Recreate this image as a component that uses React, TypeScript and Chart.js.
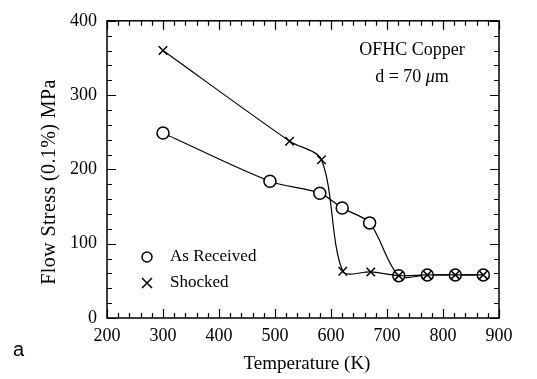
import React, { useEffect, useRef } from "react";
import { Chart, registerables } from "chart.js";

Chart.register(...registerables);

// Data
const asReceivedT = [300, 491, 580, 620, 669, 721, 772, 822, 872];
const asReceivedS = [249, 184, 168, 148, 128, 57, 58, 58, 58];
const shockedT = [300, 526, 583, 621, 671, 721, 772, 822, 872];
const shockedS = [360, 238, 213, 63, 62, 57, 58, 58, 58];

const xMin = 200;
const xMax = 900;
const yMin = 0;
const yMax = 400;
const majorStep = 100;
const minorStep = 20;

const legendLabels = ["As Received", "Shocked"];
const xTitle = "Temperature (K)";
const yTitle = "Flow Stress (0.1%) MPa";
const noteLine1 = "OFHC Copper";
const noteLine2 = ["d = 70 ", "\u03bc", "m"];
const panelLabel = "a";

const SERIF = "'Liberation Serif', 'Times New Roman', serif";

const framePlugin = {
  id: "frameTicks",
  afterDraw(chart: any) {
    const { ctx, chartArea, scales } = chart;
    const { left, right, top, bottom } = chartArea;
    const xs = scales.x;
    const ys = scales.y;
    ctx.save();
    ctx.strokeStyle = "#000";
    ctx.lineWidth = 1.5;
    ctx.strokeRect(left, top, right - left, bottom - top);
    ctx.lineWidth = 1.2;
    ctx.beginPath();
    for (let v = xMin; v <= xMax; v += minorStep) {
      const px = Math.round(xs.getPixelForValue(v)) + 0.5;
      const len = v % majorStep === 0 ? 9 : 5;
      ctx.moveTo(px, bottom);
      ctx.lineTo(px, bottom - len);
      ctx.moveTo(px, top);
      ctx.lineTo(px, top + len);
    }
    for (let v = yMin; v <= yMax; v += minorStep) {
      const py = Math.round(ys.getPixelForValue(v)) + 0.5;
      const len = v % majorStep === 0 ? 9 : 5;
      ctx.moveTo(left, py);
      ctx.lineTo(left + len, py);
      ctx.moveTo(right, py);
      ctx.lineTo(right - len, py);
    }
    ctx.stroke();

    // Axis titles
    ctx.fillStyle = "#000";
    ctx.font = `19px ${SERIF}`;
    ctx.textAlign = "center";
    ctx.textBaseline = "middle";
    ctx.fillText(xTitle, (left + right) / 2 + 4, 364);
    ctx.save();
    ctx.translate(50, 182);
    ctx.rotate(-Math.PI / 2);
    ctx.font = `20px ${SERIF}`;
    (ctx as any).letterSpacing = "0.4px";
    ctx.fillText(yTitle, 0, 0);
    (ctx as any).letterSpacing = "0px";
    ctx.restore();

    // Annotation
    ctx.font = `18px ${SERIF}`;
    ctx.textAlign = "center";
    ctx.fillText(noteLine1, 412, 50);
    const w0 = ctx.measureText(noteLine2[0]).width;
    ctx.font = `italic 18px ${SERIF}`;
    const w1 = ctx.measureText(noteLine2[1]).width;
    ctx.font = `18px ${SERIF}`;
    const w2 = ctx.measureText(noteLine2[2]).width;
    let sx = 412 - (w0 + w1 + w2) / 2;
    ctx.textAlign = "left";
    ctx.fillText(noteLine2[0], sx, 77);
    sx += w0;
    ctx.font = `italic 18px ${SERIF}`;
    ctx.fillText(noteLine2[1], sx, 77);
    sx += w1;
    ctx.font = `18px ${SERIF}`;
    ctx.fillText(noteLine2[2], sx, 77);

    // Legend
    ctx.lineWidth = 1.5;
    ctx.beginPath();
    ctx.arc(147, 257, 5, 0, Math.PI * 2);
    ctx.stroke();
    ctx.beginPath();
    ctx.moveTo(142, 278);
    ctx.lineTo(152, 288);
    ctx.moveTo(152, 278);
    ctx.lineTo(142, 288);
    ctx.stroke();
    ctx.font = `17px ${SERIF}`;
    ctx.textAlign = "left";
    ctx.fillText(legendLabels[0], 170, 257);
    ctx.fillText(legendLabels[1], 170, 283);

    // Panel label
    ctx.font = "20px 'Liberation Sans', Arial, sans-serif";
    ctx.textBaseline = "alphabetic";
    ctx.fillText(panelLabel, 13, 356);
    ctx.restore();
  },
};

export default function App() {
  const ref = useRef<HTMLCanvasElement | null>(null);
  useEffect(() => {
    if (!ref.current) return;
    const chart = new Chart(ref.current, {
      type: "line",
      data: {
        datasets: [
          {
            label: legendLabels[1],
            data: shockedT.map((t, i) => ({ x: t, y: shockedS[i] })),
            borderColor: "#000",
            borderWidth: 1.2,
            pointStyle: "crossRot",
            pointRadius: 6,
            pointBorderWidth: 1.5,
            pointBorderColor: "#000",
            pointBackgroundColor: "#000",
            tension: 0.3,
            fill: false,
          },
          {
            label: legendLabels[0],
            data: asReceivedT.map((t, i) => ({ x: t, y: asReceivedS[i] })),
            borderColor: "#000",
            borderWidth: 1.2,
            pointStyle: "circle",
            pointRadius: 6,
            pointBorderWidth: 1.5,
            pointBorderColor: "#000",
            pointBackgroundColor: "#fff",
            tension: 0.3,
            fill: false,
          },
        ],
      },
      options: {
        responsive: false,
        animation: false,
        layout: { padding: { left: 0, top: 16, right: 38, bottom: 0 } },
        plugins: { legend: { display: false }, tooltip: { enabled: false } },
        scales: {
          x: {
            type: "linear",
            min: xMin,
            max: xMax,
            grid: { display: false, drawTicks: false },
            border: { display: false },
            ticks: {
              stepSize: majorStep,
              color: "#000",
              padding: 7,
              maxRotation: 0,
              font: { family: SERIF, size: 18 },
            },
            afterFit: (s: any) => {
              s.height = 61;
            },
          },
          y: {
            type: "linear",
            min: yMin,
            max: yMax,
            grid: { display: false, drawTicks: false },
            border: { display: false },
            ticks: {
              stepSize: majorStep,
              color: "#000",
              padding: 10,
              font: { family: SERIF, size: 18 },
            },
            afterFit: (s: any) => {
              s.width = 107;
            },
          },
        },
      },
      plugins: [framePlugin],
    });
    return () => chart.destroy();
  }, []);
  return (
    <div style={{ position: "absolute", left: 0, top: 0, width: 537, height: 379, background: "#fff" }}>
      <canvas ref={ref} width={537} height={379} />
    </div>
  );
}
